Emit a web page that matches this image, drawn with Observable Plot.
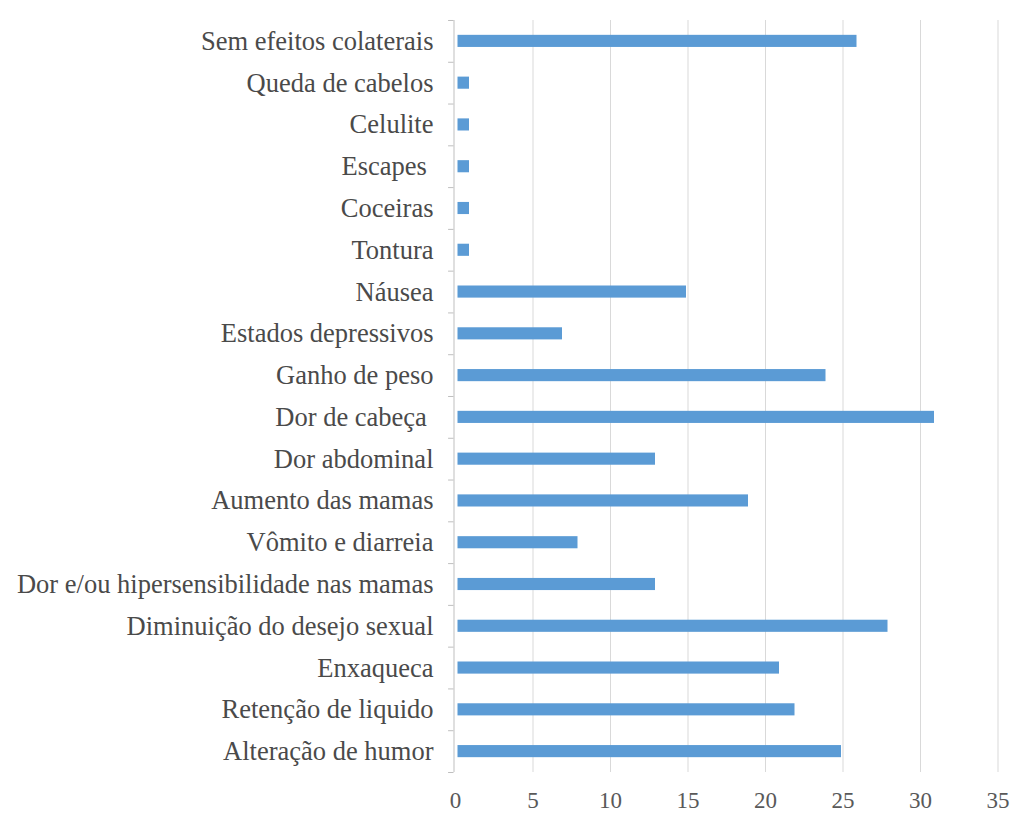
<!DOCTYPE html>
<html>
<head>
<meta charset="utf-8">
<script src="https://cdn.jsdelivr.net/npm/d3@7"></script>
<script src="https://cdn.jsdelivr.net/npm/@observablehq/plot@0.6"></script>
<style>
  html, body { margin: 0; padding: 0; background: #fff; }
  #chart svg { display: block; }
  #chart svg, #chart svg text { font-family: "Liberation Serif", "Times New Roman", Times, serif !important; }
</style>
</head>
<body>
<div id="chart"></div>
<script>
const categories = [
  "Sem efeitos colaterais",
  "Queda de cabelos",
  "Celulite",
  "Escapes ",
  "Coceiras",
  "Tontura",
  "Náusea",
  "Estados depressivos",
  "Ganho de peso",
  "Dor de cabeça ",
  "Dor abdominal",
  "Aumento das mamas",
  "Vômito e diarreia",
  "Dor e/ou hipersensibilidade nas mamas",
  "Diminuição do desejo sexual",
  "Enxaqueca",
  "Retenção de liquido",
  "Alteração de humor"
];
const values = [26, 1, 1, 1, 1, 1, 15, 7, 24, 31, 13, 19, 8, 13, 28, 21, 22, 25];
const xTicks = [0, 5, 10, 15, 20, 25, 30, 35];

const data = categories.map((c, i) => ({category: c, value: values[i]}));
const serif = "Liberation Serif";

const chart = Plot.plot({
  width: 1012,
  height: 814,
  marginLeft: 455,
  marginRight: 14.5,
  marginTop: 20,
  marginBottom: 42,
  style: {"font-family": serif, "color": "#595959", "background": "#fff"},
  x: {domain: [0, 35], ticks: xTicks, label: null},
  y: {domain: categories, paddingInner: 0.71, paddingOuter: 0.355, round: false, label: null},
  marks: [
    Plot.gridX(xTicks.filter(d => d > 0), {stroke: "#d9d9d9", strokeOpacity: 1, strokeWidth: 1}),
    Plot.ruleX([0], {stroke: "#bfbfbf", dx: -1.5}),
    Plot.ruleY(categories, {y: d => d, x1: -0.35, x2: 0, dx: -1.5, dy: -20.9, stroke: "#bfbfbf"}),
    Plot.ruleY(categories.slice(-1), {y: d => d, x1: -0.35, x2: 0, dx: -1.5, dy: 20.9, stroke: "#bfbfbf"}),
    Plot.barX(data, {y: "category", x: "value", fill: "#5b9bd5", insetLeft: 2.5, insetRight: 1.5}),
    Plot.axisX({ticks: xTicks, tickSize: 0, tickPadding: 19, fontSize: 23, fontFamily: serif, fill: "#595959", label: null}),
    Plot.axisY({tickSize: 0, tickPadding: 22, fontSize: 26.5, fontFamily: serif, fill: "#4a4a4a", label: null})
  ]
});
document.getElementById("chart").append(chart);
</script>
</body>
</html>
